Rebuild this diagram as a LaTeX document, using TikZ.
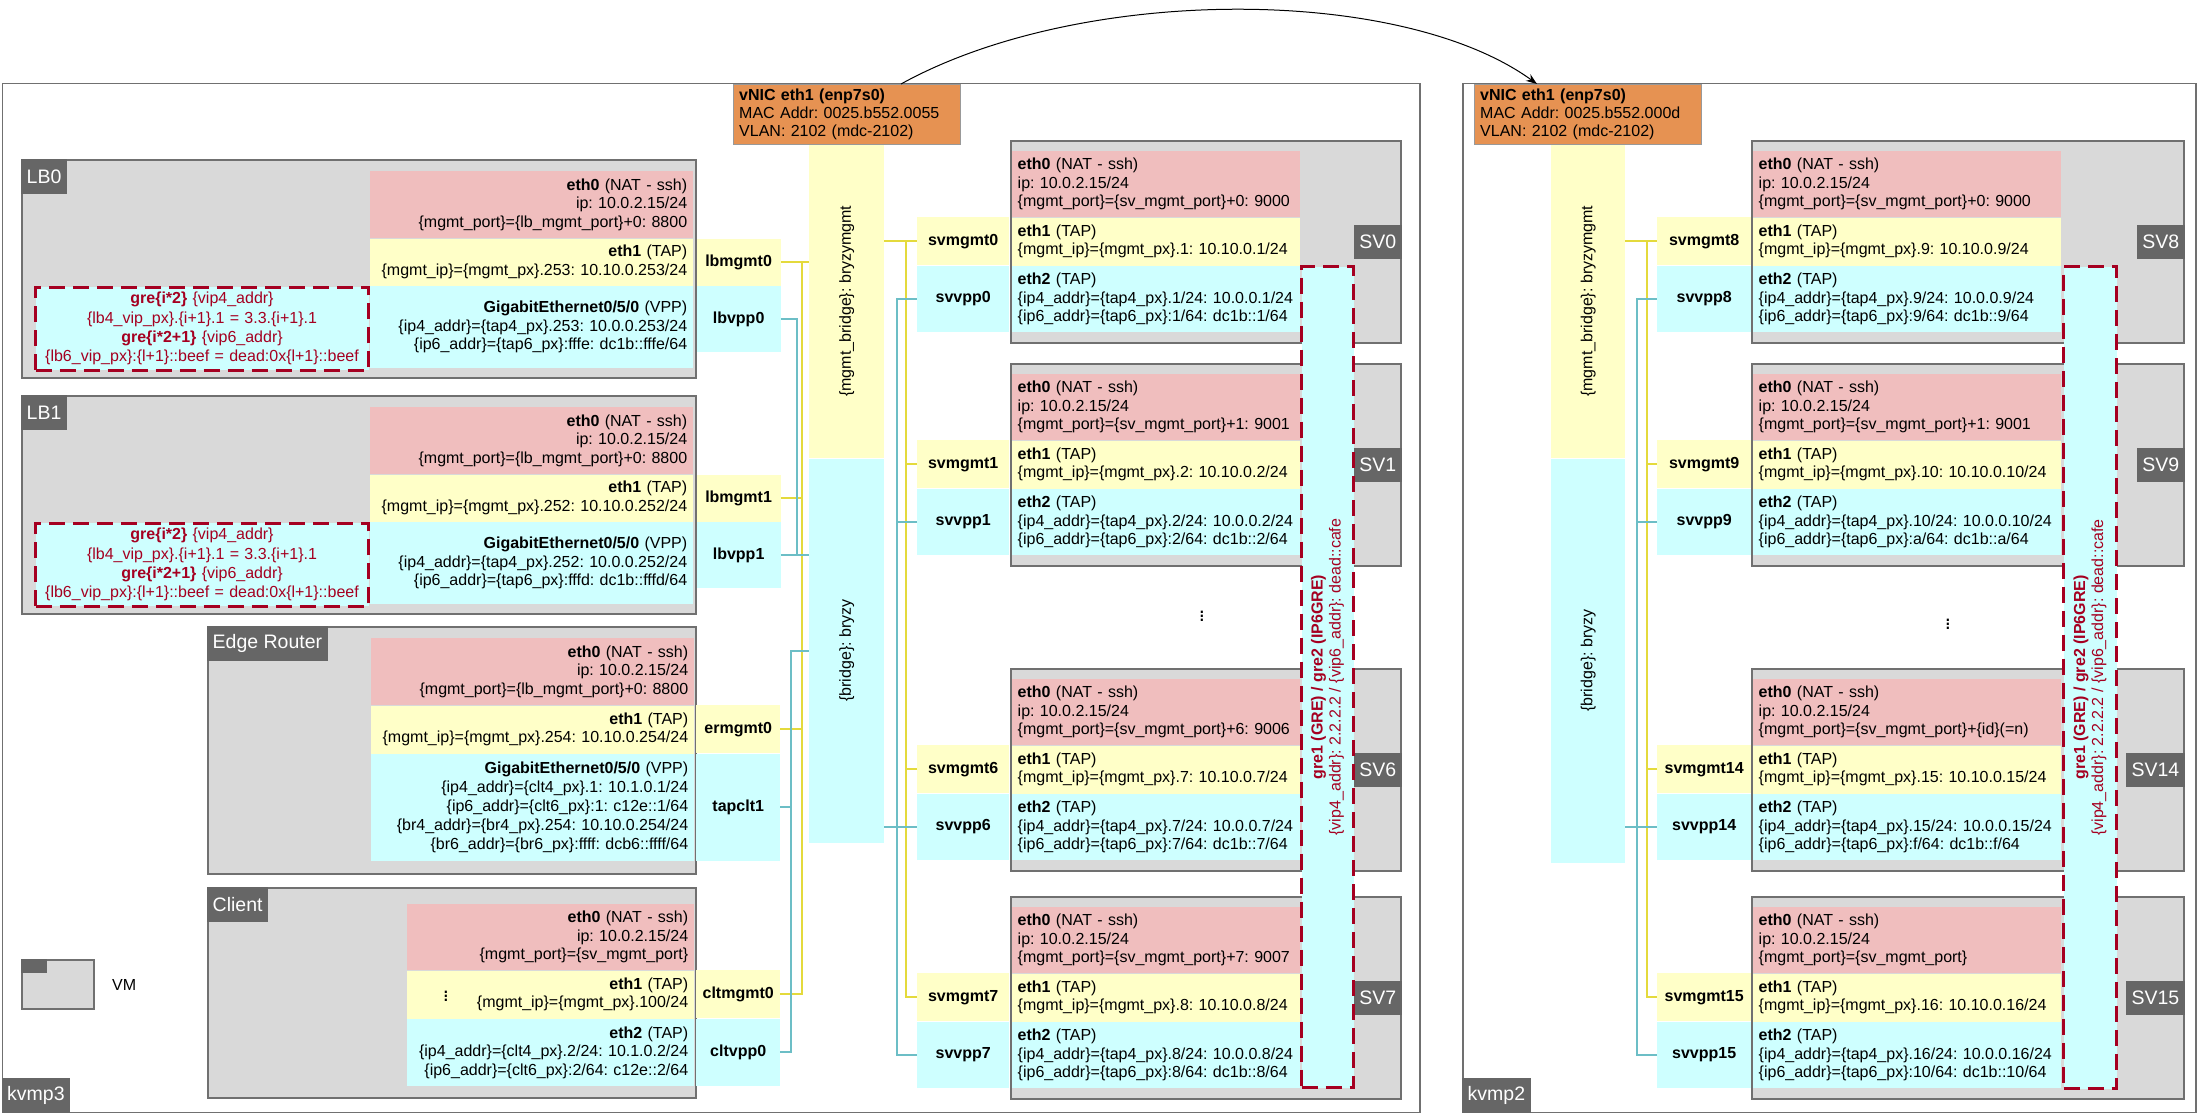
\documentclass[tikz,border=0pt]{standalone}
\usepackage{fontspec}
\setmainfont{Liberation Sans}
\usetikzlibrary{calc,arrows.meta}
\frenchspacing

\definecolor{vmgrey}{RGB}{217,217,217}
\definecolor{vmedge}{RGB}{112,112,112}
\definecolor{tagfill}{RGB}{102,102,102}
\definecolor{natpink}{RGB}{240,190,190}
\definecolor{tapyellow}{RGB}{255,255,200}
\definecolor{vppcyan}{RGB}{206,255,255}
\definecolor{nicorange}{RGB}{230,146,82}
\definecolor{grered}{RGB}{165,0,33}
\definecolor{mgmtwire}{RGB}{228,218,60}
\definecolor{vppwire}{RGB}{108,190,198}

\newcommand{\brc}[1]{\{#1\}}

\begin{document}
\begin{tikzpicture}[x=1pt, y=-1pt,
    host/.style={draw=vmedge, line width=1.5pt, anchor=north west, inner sep=0pt},
    vmbox/.style={draw=vmedge, line width=2pt, fill=vmgrey, anchor=north west, inner sep=0pt},
    vmtag/.style={fill=tagfill, text=white, font=\fontsize{19.5}{20}\selectfont, inner xsep=5.5pt, inner ysep=0pt, minimum height=35pt},
    blk/.style={anchor=north west, inner xsep=6pt, inner ysep=0pt, font=\fontsize{16}{18.5}\selectfont},
    ifname/.style={anchor=north west, inner sep=0pt, font=\fontsize{16}{18}\selectfont\bfseries},
    grebox/.style={draw=grered, line width=3pt, dash pattern=on 16pt off 8pt, fill=vppcyan, anchor=north west, inner xsep=6pt, inner ysep=0pt},
    bridge/.style={anchor=north west, inner sep=0pt, minimum width=75pt},
    nicbox/.style={draw=gray!80, fill=nicorange, anchor=north west, inner xsep=6pt, inner ysep=0pt, align=left, minimum height=60pt, font=\fontsize{16}{18}\selectfont},
    moredots/.style={inner sep=0pt, font=\fontsize{22}{24}\selectfont},
    mgmtline/.style={draw=mgmtwire, line width=1.8pt},
    vppline/.style={draw=vppwire, line width=1.8pt}
]
    \useasboundingbox (0,0) rectangle (2197,1113);

    % 两台宿主机
    \node[host, minimum width=1417.5pt, minimum height=1029pt] (kvmp3) at (1.5,83) {};
    \node[host, minimum width=733pt, minimum height=1029pt] (kvmp2) at (1462,83) {};
    \node[vmtag, anchor=south west] (kvmp3-tag) at (kvmp3.south west) {kvmp3};
    \node[vmtag, anchor=south west] (kvmp2-tag) at (kvmp2.south west) {kvmp2};

    % LB0 / LB1
    \foreach \n/\yt/\h/\x in {0/159/253/fffe, 1/395/252/fffd} {
        \node[vmbox, minimum width=674pt, minimum height=218pt] (lb\n) at (21,\yt) {};
        \node[vmtag, anchor=north west] (lb\n-tag) at (lb\n.north west) {LB\n};
        \node[blk, fill=natpink, text width=311pt, minimum height=67pt, align=right] (lb\n-eth0) at (370,{\yt+12})
            {\textbf{eth0} (NAT - ssh)\\ip: 10.0.2.15/24\\\brc{mgmt\_port}=\brc{lb\_mgmt\_port}+0: 8800};
        \node[blk, fill=tapyellow, text width=311pt, minimum height=47pt, align=right] (lb\n-eth1) at (lb\n-eth0.south west)
            {\textbf{eth1} (TAP)\\\brc{mgmt\_ip}=\brc{mgmt\_px}.\h: 10.10.0.\h/24};
        \node[blk, fill=vppcyan, text width=311pt, minimum height=82pt, align=right] (lb\n-ge) at (lb\n-eth1.south west)
            {\textbf{GigabitEthernet0/5/0} (VPP)\\\brc{ip4\_addr}=\brc{tap4\_px}.\h: 10.0.0.\h/24\\\brc{ip6\_addr}=\brc{tap6\_px}:\x: dc1b::\x/64};
        \node[grebox, anchor=north east, text=grered, text width=321pt, minimum height=83pt, align=center, font=\fontsize{16}{19.3}\selectfont] (lb\n-gre) at (lb\n-ge.north west)
            {\textbf{gre\brc{i*2}} \brc{vip4\_addr}\\\brc{lb4\_vip\_px}.\brc{i+1}.1 = 3.3.\brc{i+1}.1\\\textbf{gre\brc{i*2+1}} \brc{vip6\_addr}\\\brc{lb6\_vip\_px}:\brc{l+1}::beef = dead:0x\brc{l+1}::beef};
        \node[ifname, fill=tapyellow, minimum width=84pt, minimum height=47pt] (lbmgmt\n) at ($(lb\n-eth1.north east)+(3,0)$) {lbmgmt\n};
        \node[ifname, fill=vppcyan, minimum width=84pt, minimum height=66pt] (lbvpp\n) at (lbmgmt\n.south west) {lbvpp\n};
    }

    % Edge Router
    \node[vmbox, minimum width=488pt, minimum height=247pt] (er) at (207,626) {};
    \node[vmtag, anchor=north west] (er-tag) at (er.north west) {Edge Router};
    \node[blk, fill=natpink, text width=311pt, minimum height=67pt, align=right] (er-eth0) at (371,638)
        {\textbf{eth0} (NAT - ssh)\\ip: 10.0.2.15/24\\\brc{mgmt\_port}=\brc{lb\_mgmt\_port}+0: 8800};
    \node[blk, fill=tapyellow, text width=311pt, minimum height=48pt, align=right] (er-eth1) at (er-eth0.south west)
        {\textbf{eth1} (TAP)\\\brc{mgmt\_ip}=\brc{mgmt\_px}.254: 10.10.0.254/24};
    \node[blk, fill=vppcyan, text width=311pt, minimum height=107pt, align=right, font=\fontsize{16}{19}\selectfont] (er-ge) at (er-eth1.south west)
        {\textbf{GigabitEthernet0/5/0} (VPP)\\\brc{ip4\_addr}=\brc{clt4\_px}.1: 10.1.0.1/24\\\brc{ip6\_addr}=\brc{clt6\_px}:1: c12e::1/64\\\brc{br4\_addr}=\brc{br4\_px}.254: 10.10.0.254/24\\\brc{br6\_addr}=\brc{br6\_px}:ffff: dcb6::ffff/64};
    \node[ifname, fill=tapyellow, minimum width=84pt, minimum height=48pt] (ermgmt0) at (696,705) {ermgmt0};
    \node[ifname, fill=vppcyan, minimum width=84pt, minimum height=107pt] (tapclt1) at (ermgmt0.south west) {tapclt1};

    % Client
    \node[vmbox, minimum width=488pt, minimum height=210pt] (clt) at (207,887) {};
    \node[vmtag, anchor=north west] (clt-tag) at (clt.north west) {Client};
    \node[blk, fill=natpink, text width=275pt, minimum height=66pt, align=right] (clt-eth0) at (407,904)
        {\textbf{eth0} (NAT - ssh)\\ip: 10.0.2.15/24\\\brc{mgmt\_port}=\brc{sv\_mgmt\_port}};
    \node[blk, fill=tapyellow, text width=275pt, minimum height=48pt, align=right] (clt-eth1) at (clt-eth0.south west)
        {\textbf{eth1} (TAP)\\\brc{mgmt\_ip}=\brc{mgmt\_px}.100/24};
    \node[blk, fill=vppcyan, text width=275pt, minimum height=67pt, align=right] (clt-eth2) at (clt-eth1.south west)
        {\textbf{eth2} (TAP)\\\brc{ip4\_addr}=\brc{clt4\_px}.2/24: 10.1.0.2/24\\\brc{ip6\_addr}=\brc{clt6\_px}:2/64: c12e::2/64};
    \node[moredots] (clt-dots) at (446,993) {$\vdots$};
    \node[ifname, fill=tapyellow, minimum width=84pt, minimum height=48pt] (cltmgmt0) at (696,970) {cltmgmt0};
    \node[ifname, fill=vppcyan, minimum width=84pt, minimum height=67pt] (cltvpp0) at (cltmgmt0.south west) {cltvpp0};

    % 图例
    \node[vmbox, minimum width=72pt, minimum height=49pt] (leg-vm) at (21,959) {};
    \node[fill=tagfill, inner sep=0pt, minimum width=26pt, minimum height=14pt, anchor=north west] (leg-tag) at (leg-vm.north west) {};
    \node[anchor=west, inner sep=0pt, font=\fontsize{16}{18}\selectfont] (leg-txt) at (112,985) {VM};

    % kvmp3 上的 SV
    \foreach \n/\yt/\h/\x/\port in {0/140/1/1/{+0: 9000}, 1/363/2/2/{+1: 9001}, 6/668/7/7/{+6: 9006}, 7/896/8/8/{+7: 9007}} {
        \node[vmbox, minimum width=390pt, minimum height=202pt] (sv\n) at (1010,\yt) {};
        \node[blk, fill=natpink, text width=276pt, minimum height=66pt, align=left] (sv\n-eth0) at (1011.5,{\yt+11})
            {\textbf{eth0} (NAT - ssh)\\ip: 10.0.2.15/24\\\brc{mgmt\_port}=\brc{sv\_mgmt\_port}\port};
        \node[blk, fill=tapyellow, text width=276pt, minimum height=48pt, align=left] (sv\n-eth1) at (sv\n-eth0.south west)
            {\textbf{eth1} (TAP)\\\brc{mgmt\_ip}=\brc{mgmt\_px}.\h: 10.10.0.\h/24};
        \node[blk, fill=vppcyan, text width=276pt, minimum height=66pt, align=left] (sv\n-eth2) at (sv\n-eth1.south west)
            {\textbf{eth2} (TAP)\\\brc{ip4\_addr}=\brc{tap4\_px}.\h/24: 10.0.0.\h/24\\\brc{ip6\_addr}=\brc{tap6\_px}:\x/64: dc1b::\x/64};
        \node[vmtag, anchor=east, minimum height=34pt] (sv\n-tag) at (sv\n.east) {SV\n};
        \node[ifname, fill=tapyellow, minimum width=92pt, minimum height=48pt] (svmgmt\n) at (917,{\yt+77}) {svmgmt\n};
        \node[ifname, fill=vppcyan, minimum width=92pt, minimum height=66pt] (svvpp\n) at (svmgmt\n.south west) {svvpp\n};
    }

    % kvmp2 上的 SV
    \foreach \n/\yt/\h/\x/\port in {8/140/9/9/{+0: 9000}, 9/363/10/a/{+1: 9001}, 14/668/15/f/{+\brc{id}(=n)}, 15/896/16/10/{}} {
        \node[vmbox, minimum width=432pt, minimum height=202pt] (sv\n) at (1751,\yt) {};
        \node[blk, fill=natpink, text width=296.5pt, minimum height=66pt, align=left] (sv\n-eth0) at (1752.5,{\yt+11})
            {\textbf{eth0} (NAT - ssh)\\ip: 10.0.2.15/24\\\brc{mgmt\_port}=\brc{sv\_mgmt\_port}\port};
        \node[blk, fill=tapyellow, text width=296.5pt, minimum height=48pt, align=left] (sv\n-eth1) at (sv\n-eth0.south west)
            {\textbf{eth1} (TAP)\\\brc{mgmt\_ip}=\brc{mgmt\_px}.\h: 10.10.0.\h/24};
        \node[blk, fill=vppcyan, text width=296.5pt, minimum height=66pt, align=left] (sv\n-eth2) at (sv\n-eth1.south west)
            {\textbf{eth2} (TAP)\\\brc{ip4\_addr}=\brc{tap4\_px}.\h/24: 10.0.0.\h/24\\\brc{ip6\_addr}=\brc{tap6\_px}:\x/64: dc1b::\x/64};
        \node[vmtag, anchor=east, minimum height=34pt] (sv\n-tag) at (sv\n.east) {SV\n};
        \node[ifname, fill=tapyellow, minimum width=94pt, minimum height=48pt] (svmgmt\n) at (1657,{\yt+77}) {svmgmt\n};
        \node[ifname, fill=vppcyan, minimum width=94pt, minimum height=66pt] (svvpp\n) at (svmgmt\n.south west) {svvpp\n};
    }
    \node[moredots] (sv3-dots) at (1202,613) {$\vdots$};
    \node[moredots] (sv2-dots) at (1948,621) {$\vdots$};

    % GRE 隧道
    \node[grebox, minimum width=52pt, minimum height=821pt] (gre3) at (1300,265) {};
    \node[grebox, minimum width=53pt, minimum height=822pt] (gre2) at (2062,265) {};
    \foreach \g in {gre3, gre2}
        \node[rotate=90, text=grered, align=center, font=\fontsize{16}{18}\selectfont] (\g-txt) at (\g.center)
            {\textbf{gre1 (GRE) / gre2 (IP6GRE)}\\\brc{vip4\_addr}: 2.2.2.2 / \brc{vip6\_addr}: dead::cafe};

    % 网桥
    \node[bridge, fill=tapyellow, minimum height=314pt] (mgmtbr3) at (809,144) {};
    \node[bridge, fill=vppcyan, minimum height=384pt] (br3) at (mgmtbr3.south west) {};
    \node[bridge, fill=tapyellow, minimum width=74pt, minimum height=314pt] (mgmtbr2) at (1551,144) {};
    \node[bridge, fill=vppcyan, minimum width=74pt, minimum height=404pt] (br2) at (mgmtbr2.south west) {};
    \foreach \b in {mgmtbr3, mgmtbr2}
        \node[rotate=90, font=\fontsize{16}{18}\selectfont] (\b-txt) at (\b.center) {\brc{mgmt\_bridge}: bryzymgmt};
    \foreach \b in {br3, br2}
        \node[rotate=90, font=\fontsize{16}{18}\selectfont] (\b-txt) at (\b.center) {\brc{bridge}: bryzy};

    % vNIC
    \node[nicbox, text width=215pt] (vnic3) at (733,84) {\textbf{vNIC eth1 (enp7s0)}\\MAC Addr: 0025.b552.0055\\VLAN: 2102 (mdc-2102)};
    \node[nicbox, text width=215pt] (vnic2) at (1474,84) {\textbf{vNIC eth1 (enp7s0)}\\MAC Addr: 0025.b552.000d\\VLAN: 2102 (mdc-2102)};
    \draw[-{Stealth[length=11pt, width=8pt]}, line width=1pt] ($(vnic3.north west)+(168,0)$) .. controls (1080,-15) and (1400,-15) .. ($(vnic2.north west)+(63,0)$);

    % kvmp3 左侧连线
    \coordinate (mbus3) at ($(lbmgmt0.east)+(21,0)$);
    \coordinate (vbus3) at ($(lbvpp0.east)+(16,0)$);
    \coordinate (cbus3) at ($(br3.west)+(-18,0)$);
    \draw[mgmtline] (lbmgmt0.east) -- (lbmgmt0.east -| mgmtbr3.west);
    \draw[mgmtline] (cltmgmt0.east) -| (mbus3);
    \draw[mgmtline] (lbmgmt1.east) -- (lbmgmt1.east -| mbus3);
    \draw[mgmtline] (ermgmt0.east) -- (ermgmt0.east -| mbus3);
    \draw[vppline] (lbvpp0.east) -| (vbus3 |- lbvpp1.east);
    \draw[vppline] (lbvpp1.east) -- (lbvpp1.east -| br3.west);
    \draw[vppline] (cltvpp0.east) -| (cbus3) -- (br3.west);
    \draw[vppline] (tapclt1.east) -- (tapclt1.east -| cbus3);

    % kvmp3 右侧连线
    \coordinate (mbus3r) at ($(svmgmt0.west)+(-11,0)$);
    \coordinate (vbus3r) at ($(svvpp0.west)+(-20,0)$);
    \draw[mgmtline] (svmgmt0.west -| mgmtbr3.east) -- (svmgmt0.west);
    \draw[mgmtline] (svmgmt7.west) -| (mbus3r);
    \draw[mgmtline] (svmgmt1.west) -- (svmgmt1.west -| mbus3r);
    \draw[mgmtline] (svmgmt6.west) -- (svmgmt6.west -| mbus3r);
    \draw[vppline] (svvpp7.west) -| (vbus3r) -- (svvpp0.west);
    \draw[vppline] (svvpp1.west) -- (svvpp1.west -| vbus3r);
    \draw[vppline] (svvpp6.west -| br3.east) -- (svvpp6.west);

    % kvmp2 连线
    \coordinate (mbus2) at ($(svmgmt8.west)+(-10,0)$);
    \coordinate (vbus2) at ($(svvpp8.west)+(-20,0)$);
    \draw[mgmtline] (svmgmt8.west -| mgmtbr2.east) -- (svmgmt8.west);
    \draw[mgmtline] (svmgmt15.west) -| (mbus2);
    \draw[mgmtline] (svmgmt9.west) -- (svmgmt9.west -| mbus2);
    \draw[mgmtline] (svmgmt14.west) -- (svmgmt14.west -| mbus2);
    \draw[vppline] (svvpp15.west) -| (vbus2) -- (svvpp8.west);
    \draw[vppline] (svvpp9.west) -- (svvpp9.west -| vbus2);
    \draw[vppline] (svvpp14.west -| br2.east) -- (svvpp14.west);
\end{tikzpicture}
\end{document}
